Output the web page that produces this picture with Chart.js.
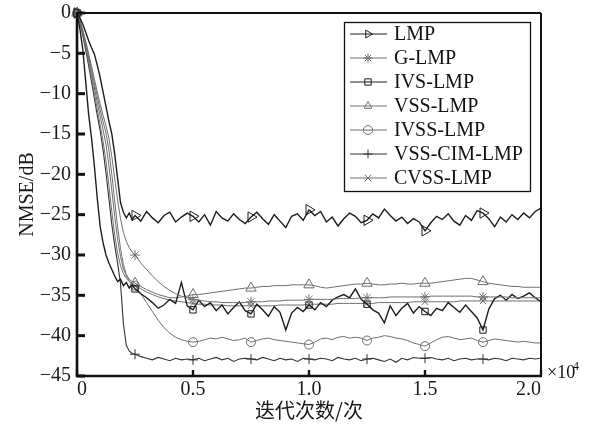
<!DOCTYPE html>
<html>
<head>
<meta charset="utf-8">
<script src="https://cdn.jsdelivr.net/npm/chart.js@4.4.1/dist/chart.umd.min.js"></script>
<style>
  html, body { margin: 0; padding: 0; background: #fff; }
  canvas { display: block; }
</style>
</head>
<body>
<canvas id="nmse" width="592" height="426"></canvas>
<script>
// iteration index of each sample
const iters = [
  0, 125, 250, 375, 500, 625, 750, 875, 1000, 1125,
  1250, 1375, 1500, 1625, 1750, 1875, 2000, 2125, 2250, 2375, 2500,
  2750, 3000, 3250, 3500, 3750, 4000, 4250, 4500, 4750, 5000,
  5250, 5500, 5750, 6000, 6250, 6500, 6750, 7000, 7250, 7500,
  7750, 8000, 8250, 8500, 8750, 9000, 9250, 9500, 9750, 10000,
  10250, 10500, 10750, 11000, 11250, 11500, 11750, 12000, 12250, 12500,
  12750, 13000, 13250, 13500, 13750, 14000, 14250, 14500, 14750, 15000,
  15250, 15500, 15750, 16000, 16250, 16500, 16750, 17000, 17250, 17500,
  17750, 18000, 18250, 18500, 18750, 19000, 19250, 19500, 19750, 20000
];

// NMSE (dB)
const lmp = [
  0, -0.6, -1.4, -2.4, -3.4, -4.3, -5.1, -6.5, -8.0, -9.8,
  -11.6, -13.4, -15.0, -17.5, -20.5, -23.5, -24.7, -25.4, -24.8, -25.6, -25.1,
  -25.8, -24.6, -25.4, -26.0, -25.1, -24.7, -25.9, -25.3, -24.8, -25.2,
  -25.9, -25.0, -26.3, -24.6, -25.4, -25.8, -24.9, -25.6, -26.1, -25.3,
  -24.7, -25.5, -26.2, -25.0, -25.8, -26.6, -25.2, -24.9, -25.7, -24.4,
  -25.1, -24.6, -25.9, -25.3, -26.4, -25.5, -24.8, -25.2, -26.0, -25.7,
  -24.9, -25.4, -24.3, -25.1, -25.8, -25.3, -26.1, -25.5, -25.9, -27.0,
  -26.0, -25.2, -25.6, -24.9, -25.8, -26.3, -25.1, -25.7, -24.5, -24.8,
  -25.5, -26.5, -25.3, -25.9, -25.0, -25.6, -24.8, -25.4, -24.6, -24.2
];
const gLmp = [
  0, -0.9, -2.1, -3.5, -5.0, -6.6, -8.2, -9.8, -11.3, -12.7,
  -14.0, -15.5, -17.8, -20.5, -23.2, -25.5, -27.2, -28.3, -29.1, -29.6, -30.0,
  -31.0, -31.8, -32.6, -33.3, -33.9, -34.4, -34.8, -35.1, -35.3, -35.5,
  -35.6, -35.7, -35.8, -35.8, -35.9, -35.9, -35.9, -35.9, -35.9, -35.8,
  -35.8, -35.8, -35.7, -35.7, -35.7, -35.6, -35.6, -35.6, -35.6, -35.5,
  -35.5, -35.5, -35.5, -35.5, -35.4, -35.4, -35.4, -35.4, -35.3, -35.3,
  -35.3, -35.3, -35.3, -35.2, -35.2, -35.2, -35.2, -35.2, -35.2, -35.2,
  -35.1, -35.1, -35.1, -35.1, -35.1, -35.1, -35.1, -35.1, -35.2, -35.2,
  -35.2, -35.2, -35.2, -35.2, -35.3, -35.3, -35.3, -35.3, -35.3, -35.3
];
const ivsLmp = [
  0, -2.0, -4.5, -8.5, -12.5, -15.5, -19.0, -23.0, -26.5, -28.5,
  -30.0, -31.0, -31.8, -32.6, -33.3, -33.0, -33.8, -33.4, -34.1, -33.7, -34.2,
  -34.8, -35.3, -35.9, -36.6, -36.2, -35.5, -36.0, -33.4, -36.3, -36.8,
  -35.6, -36.4, -35.9, -36.9, -36.2, -37.3, -36.5, -35.8, -36.9, -37.3,
  -36.1, -36.8, -37.6, -36.4, -37.1, -39.3, -37.2, -36.5, -37.0, -36.2,
  -36.8, -35.9, -36.4, -35.6, -35.2, -34.9, -35.3, -34.2, -35.5, -36.1,
  -36.8, -37.2, -38.4, -36.3, -37.5, -36.6, -36.0, -37.2, -36.4, -37.0,
  -37.5, -36.6, -36.9, -35.9, -36.5, -37.1, -36.2, -37.0, -37.8, -39.3,
  -36.7, -35.4, -35.0, -35.6, -34.9, -35.4, -35.1, -34.7, -35.3, -35.8
];
const vssLmp = [
  0, -0.9, -2.2, -3.7, -5.3, -7.0, -8.7, -10.4, -12.0, -13.5,
  -14.9, -17.0, -20.0, -23.3, -26.5, -29.2, -31.2, -32.4, -33.0, -33.3, -33.5,
  -33.9, -34.3, -34.6, -34.9, -35.1, -35.3, -35.3, -35.2, -35.1, -34.9,
  -34.9, -34.8, -34.7, -34.6, -34.5, -34.4, -34.3, -34.2, -34.1, -34.1,
  -34.0, -33.9, -33.9, -33.8, -33.8, -33.8, -33.7, -33.7, -33.7, -33.7,
  -33.8, -34.0, -34.1, -34.0, -33.9, -33.8, -33.7, -33.6, -33.6, -33.5,
  -33.6, -33.7, -33.7, -33.6, -33.6, -33.5, -33.6, -33.6, -33.5, -33.5,
  -33.5, -33.4, -33.3, -33.2, -33.1, -33.0, -32.9, -32.9, -33.1, -33.3,
  -33.5, -33.6, -33.7, -33.8, -33.9, -33.9, -34.0, -34.0, -34.0, -34.0
];
const ivssLmp = [
  0, -1.1, -2.6, -4.3, -6.1, -8.0, -10.0, -12.0, -13.9, -15.9,
  -18.4, -21.4, -24.6, -27.5, -29.8, -31.3, -32.3, -32.9, -33.3, -33.6, -33.8,
  -34.8, -35.9, -37.0, -38.1, -39.0, -39.7, -40.2, -40.5, -40.7, -40.8,
  -40.7, -40.5, -40.3, -40.4, -40.2, -40.4, -40.6, -40.5, -40.3, -40.8,
  -40.6, -40.4, -40.3, -40.5, -40.6, -40.7, -40.8, -40.9, -41.0, -41.1,
  -40.8, -40.4, -40.3, -40.5, -40.2, -40.1, -40.3, -40.2, -40.3, -40.6,
  -40.3, -40.2, -40.0, -40.1, -40.3, -40.4, -40.6, -40.9, -41.1, -41.3,
  -40.9, -40.5, -40.2, -40.1, -40.3, -40.5, -40.4, -40.3, -40.6, -40.8,
  -40.6, -40.4, -40.5, -40.6, -40.7, -40.8, -40.7, -40.8, -40.9, -40.9
];
const vssCimLmp = [
  0, -1.2, -2.8, -4.6, -6.5, -8.5, -10.6, -12.7, -14.6, -17.0,
  -19.8, -23.0, -26.2, -28.8, -31.0, -33.5, -38.5, -41.2, -41.9, -42.2, -42.3,
  -42.6, -42.8, -43.0, -42.7, -42.9, -43.1, -42.8, -43.0, -42.9, -43.0,
  -42.8, -43.1, -42.9, -42.7, -43.0, -42.8, -43.2, -42.9, -42.8, -42.9,
  -43.0, -42.7, -42.9, -43.1, -42.8, -43.0, -42.9, -43.2, -42.8, -42.9,
  -43.0, -42.8, -42.9, -43.1, -42.7, -42.9, -43.0, -42.8, -43.1, -42.9,
  -42.8, -43.0, -43.2, -42.9, -43.3, -42.8, -43.0, -42.7, -42.8, -42.8,
  -42.7, -42.9, -43.0, -42.8, -43.1, -42.9, -42.8, -43.0, -42.9, -42.9,
  -43.0, -42.8, -42.9, -43.1, -42.8, -42.9, -43.0, -42.8, -42.9, -42.8
];
const cvssLmp = [
  0, -1.0, -2.4, -4.0, -5.7, -7.5, -9.3, -11.1, -12.8, -14.5,
  -16.3, -18.9, -22.0, -25.2, -28.0, -30.2, -31.7, -32.6, -33.2, -33.6, -33.8,
  -34.2, -34.6, -34.9, -35.2, -35.4, -35.6, -35.7, -35.8, -35.9, -36.0,
  -36.1, -36.1, -36.2, -36.2, -36.2, -36.3, -36.3, -36.3, -36.3, -36.3,
  -36.3, -36.3, -36.3, -36.3, -36.2, -36.2, -36.2, -36.2, -36.2, -36.1,
  -36.1, -36.1, -36.1, -36.1, -36.0, -36.0, -36.0, -36.0, -36.0, -36.0,
  -36.0, -35.9, -35.9, -35.9, -35.9, -35.9, -35.9, -35.8, -35.8, -35.8,
  -35.8, -35.8, -35.8, -35.8, -35.8, -35.7, -35.7, -35.7, -35.7, -35.7,
  -35.7, -35.7, -35.7, -35.7, -35.7, -35.7, -35.7, -35.7, -35.7, -35.7
];

// iterations where a marker is drawn
const markerIters = [0, 2500, 5000, 7500, 10000, 12500, 15000, 17500];

const serif = "'Liberation Serif', 'Times New Roman', serif";

function series(label, values, color, width, style, radius, rotation) {
  return {
    label: label,
    data: iters.map((x, i) => ({ x: x, y: values[i] })),
    borderColor: color,
    borderWidth: width,
    pointStyle: style,
    pointRotation: rotation || 0,
    pointRadius: ctx => markerIters.includes(iters[ctx.dataIndex]) ? radius : 0,
    pointHoverRadius: 0,
    pointBorderColor: color,
    pointBorderWidth: 1,
    pointBackgroundColor: 'rgba(0,0,0,0)',
    tension: 0,
    clip: false
  };
}

const datasets = [
  series('LMP', lmp, '#1c1c1c', 1.4, 'triangle', 6, 90),
  series('G-LMP', gLmp, '#6e6e6e', 1, 'star', 5),
  series('IVS-LMP', ivsLmp, '#1c1c1c', 1.4, 'rect', 4.5),
  series('VSS-LMP', vssLmp, '#6e6e6e', 1, 'triangle', 6),
  series('IVSS-LMP', ivssLmp, '#6e6e6e', 1, 'circle', 4.5),
  series('VSS-CIM-LMP', vssCimLmp, '#333333', 1.1, 'cross', 5),
  series('CVSS-LMP', cvssLmp, '#6e6e6e', 1, 'crossRot', 4.5)
];

// box frame with inward ticks
const frame = {
  id: 'frame',
  afterDatasetsDraw(chart) {
    const { ctx, chartArea: a, scales } = chart;
    ctx.save();
    ctx.strokeStyle = '#111';
    ctx.lineWidth = 2;
    ctx.beginPath();
    ctx.moveTo(a.left, a.top); ctx.lineTo(a.right, a.top);
    ctx.moveTo(a.right, a.top); ctx.lineTo(a.right, a.bottom);
    ctx.stroke();
    ctx.lineWidth = 2.6;
    ctx.beginPath();
    ctx.moveTo(a.left, a.top - 1); ctx.lineTo(a.left, a.bottom);
    ctx.lineTo(a.right + 1, a.bottom);
    ctx.stroke();
    ctx.lineWidth = 3;
    scales.y.ticks.forEach(t => {
      const y = scales.y.getPixelForValue(t.value);
      ctx.beginPath(); ctx.moveTo(a.left, y); ctx.lineTo(a.left + 8, y); ctx.stroke();
    });
    ctx.lineWidth = 2.4;
    scales.x.ticks.forEach(t => {
      const x = scales.x.getPixelForValue(t.value);
      ctx.beginPath(); ctx.moveTo(x, a.bottom); ctx.lineTo(x, a.bottom - 6); ctx.stroke();
    });
    ctx.restore();
  }
};

const boxLegend = {
  id: 'boxLegend',
  afterDraw(chart) {
    const { ctx, chartArea: a } = chart;
    const w = 186, h = 169;
    const left = a.right - 11 - w, top = a.top + 9;
    ctx.save();
    ctx.fillStyle = '#fff';
    ctx.fillRect(left, top, w, h);
    ctx.strokeStyle = '#111';
    ctx.lineWidth = 1.3;
    ctx.strokeRect(left + 0.5, top + 0.5, w, h);
    ctx.font = '20px ' + serif;
    ctx.textBaseline = 'middle';
    chart.data.datasets.forEach((ds, i) => {
      const y = top + 12 + i * 24;
      ctx.strokeStyle = ds.borderColor;
      ctx.lineWidth = 1;
      ctx.beginPath(); ctx.moveTo(left + 6, y); ctx.lineTo(left + 43, y); ctx.stroke();
      ctx.fillStyle = 'rgba(0,0,0,0)';
      if (Chart.helpers && Chart.helpers.drawPoint) {
        Chart.helpers.drawPoint(ctx, {
          pointStyle: ds.pointStyle,
          rotation: ds.pointRotation,
          radius: 4.5,
          borderWidth: 1
        }, left + 24, y);
      }
      ctx.fillStyle = '#111';
      ctx.fillText(ds.label, left + 50, y + 1);
    });
    // x-axis multiplier
    ctx.fillStyle = '#111';
    ctx.font = '18px ' + serif;
    ctx.textBaseline = 'middle';
    ctx.fillText('\u00d710', a.right + 6, a.bottom - 3);
    ctx.font = '12px ' + serif;
    ctx.fillText('4', a.right + 32, a.bottom - 9);
    ctx.restore();
  }
};

Chart.defaults.color = '#1a1a1a';

new Chart(document.getElementById('nmse'), {
  type: 'line',
  data: { datasets: datasets },
  options: {
    responsive: false,
    animation: false,
    events: [],
    layout: { padding: { left: 0, top: 13, right: 51, bottom: 0 } },
    plugins: { legend: { display: false }, tooltip: { enabled: false } },
    scales: {
      x: {
        type: 'linear',
        min: 0,
        max: 20000,
        grid: { display: false, drawTicks: false },
        border: { display: false },
        ticks: {
          stepSize: 5000,
          align: 'inner',
          padding: 2,
          maxRotation: 0,
          font: { family: serif, size: 20 },
          color: '#1a1a1a',
          callback: v => v === 0 ? '0' : (v / 10000).toFixed(1)
        },
        title: {
          display: true,
          text: '迭代次数/次',
          font: { family: "'Noto Sans CJK SC', sans-serif", size: 20 },
          color: '#1a1a1a',
          padding: { top: 0, bottom: 4 }
        },
        afterFit: s => { s.height = 50; s.paddingLeft = 0; s.paddingRight = 0; }
      },
      y: {
        min: -45,
        max: 0,
        grid: { display: false, drawTicks: false },
        border: { display: false },
        ticks: {
          stepSize: 5,
          padding: 6,
          font: { family: serif, size: 20 },
          color: '#1a1a1a',
          callback: v => v === 0 ? '0' : '\u2212' + Math.abs(v)
        },
        title: {
          display: true,
          text: 'NMSE/dB',
          font: { family: serif, size: 20 },
          color: '#1a1a1a',
          padding: { top: 16, bottom: 0 }
        },
        afterFit: s => { s.width = 77; s.paddingTop = 0; s.paddingBottom = 0; }
      }
    }
  },
  plugins: [frame, boxLegend]
});
</script>
</body>
</html>
